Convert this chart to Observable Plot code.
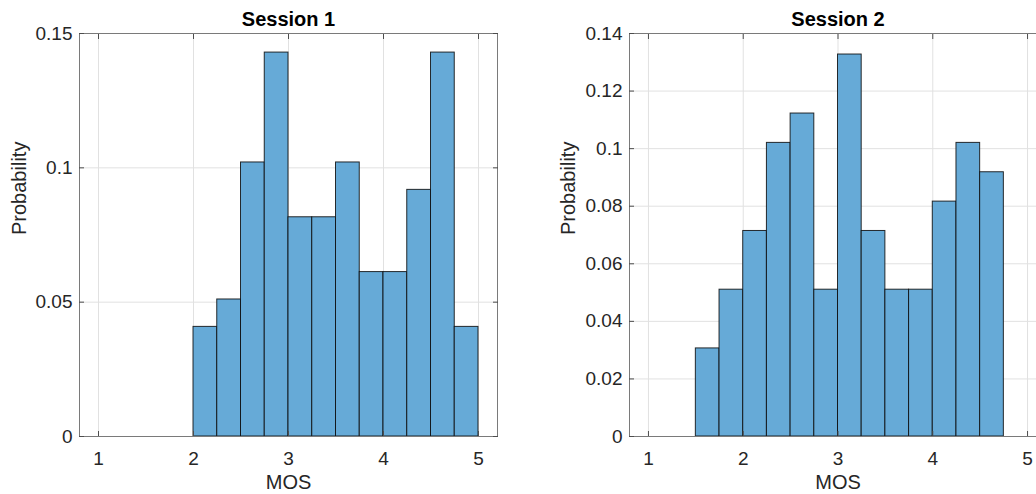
<!DOCTYPE html>
<html>
<head>
<meta charset="utf-8">
<script src="https://cdn.jsdelivr.net/npm/d3@7"></script>
<script src="https://cdn.jsdelivr.net/npm/@observablehq/plot@0.6"></script>
<style>
  html, body { margin: 0; padding: 0; background: #fff; overflow: hidden; }
  #wrap { position: relative; width: 1036px; height: 494px; overflow: hidden; }
  #wrap > div { position: absolute; top: 0; }
  #wrap svg { max-width: none !important; display: block; }
</style>
</head>
<body>
<div id="wrap"><div id="p1" style="left:0;width:516px"></div><div id="p2" style="left:516px;width:540px"></div></div>
<script>
// Session 1: bin left edges (MOS), bin width 0.25, probabilities
const s1BinStart = [2.00, 2.25, 2.50, 2.75, 3.00, 3.25, 3.50, 3.75, 4.00, 4.25, 4.50, 4.75];
const s1Prob     = [0.0408, 0.0510, 0.1020, 0.1429, 0.0816, 0.0816, 0.1020, 0.0612, 0.0612, 0.0918, 0.1429, 0.0408];
// Session 2
const s2BinStart = [1.50, 1.75, 2.00, 2.25, 2.50, 2.75, 3.00, 3.25, 3.50, 3.75, 4.00, 4.25, 4.50];
const s2Prob     = [0.0306, 0.0510, 0.0714, 0.1020, 0.1122, 0.0510, 0.1327, 0.0714, 0.0510, 0.0510, 0.0816, 0.1020, 0.0918];
const binWidth = 0.25;

const xTicks = [1, 2, 3, 4, 5];
const y1Ticks = [0, 0.05, 0.1, 0.15];
const y2Ticks = [0, 0.02, 0.04, 0.06, 0.08, 0.1, 0.12, 0.14];
const titles = ["Session 1", "Session 2"];
const xLabel = "MOS";
const yLabel = "Probability";

const FONT = "'Liberation Sans', Arial, Helvetica, sans-serif";
const fmt = d => String(+d.toFixed(2));
const TICK_FS = 19;

function panel(starts, probs, yTicks, yMax, title, opts) {
  const data = starts.map((s, i) => ({x1: s, x2: s + binWidth, y: probs[i]}));
  return Plot.plot({
    width: opts.width,
    height: 494,
    marginLeft: opts.marginLeft,
    marginRight: opts.marginRight,
    marginTop: 33,
    marginBottom: 58,
    style: {fontFamily: FONT, fontSize: TICK_FS + "px", color: "#262626", background: "transparent", maxWidth: "none"},
    x: {domain: [0.8, 5.2]},
    y: {domain: [0, yMax]},
    marks: [
      Plot.gridX(xTicks, {stroke: "#e1e1e1", strokeOpacity: 1}),
      Plot.gridY(yTicks, {stroke: "#e1e1e1", strokeOpacity: 1}),
      Plot.rectY(data, {x1: "x1", x2: "x2", y: "y", fill: "#66aad7", stroke: "#0a0a0a", strokeOpacity: 0.85, strokeWidth: 1}),
      Plot.frame({stroke: "#7a7a7a", strokeWidth: 1}),
      // inward ticks
      Plot.axisX(xTicks, {anchor: "bottom", tickSize: -5, tickFormat: () => "", stroke: "#4d4d4d", label: null}),
      Plot.axisX(xTicks, {anchor: "top", tickSize: -5, tickFormat: () => "", stroke: "#4d4d4d", label: null}),
      Plot.axisY(yTicks, {anchor: "left", tickSize: -5, tickFormat: () => "", stroke: "#4d4d4d", label: null}),
      Plot.axisY(yTicks, {anchor: "right", tickSize: -5, tickFormat: () => "", stroke: "#4d4d4d", label: null}),
      // labels
      Plot.axisX(xTicks, {anchor: "bottom", tickSize: 0, tickPadding: 15, tickFormat: fmt, label: null, fill: "#262626", fontSize: TICK_FS}),
      Plot.axisY(yTicks, {anchor: "left", tickSize: 0, tickPadding: 7, tickFormat: fmt, label: null, fill: "#262626", fontSize: TICK_FS}),
      Plot.text([title], {frameAnchor: "top", lineAnchor: "middle", dy: -14, fontWeight: "bold", fontSize: 20, fill: "#000"}),
      Plot.text([xLabel], {frameAnchor: "bottom", lineAnchor: "middle", dy: 46, fontSize: 20, fill: "#262626"}),
      Plot.text([yLabel], {frameAnchor: "left", lineAnchor: "middle", dx: opts.ylabDx, rotate: -90, fontSize: 20, fill: "#262626"})
    ]
  });
}

document.getElementById("p1").appendChild(
  panel(s1BinStart, s1Prob, y1Ticks, 0.15, titles[0], {width: 516, marginLeft: 79, marginRight: 19, ylabDx: -60})
);
document.getElementById("p2").appendChild(
  panel(s2BinStart, s2Prob, y2Ticks, 0.14, titles[1], {width: 540, marginLeft: 113, marginRight: 10, ylabDx: -61})
);
</script>
</body>
</html>
